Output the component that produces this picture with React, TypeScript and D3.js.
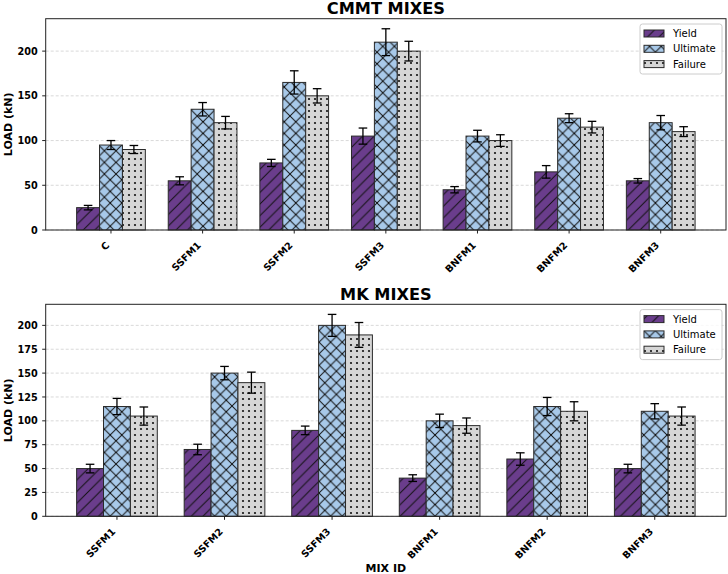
import React from "react";
import * as d3 from "d3";

const cmmtCategories = ["C", "SSFM1", "SSFM2", "SSFM3", "BNFM1", "BNFM2", "BNFM3"];
const cmmtYield = [25, 55, 75, 105, 45, 65, 55];
const cmmtUltimate = [95, 135, 165, 210, 105, 125, 120];
const cmmtFailure = [90, 120, 150, 200, 100, 115, 110];
const cmmtYieldErr = [2.5, 4.5, 4, 9, 3.5, 7, 2.5];
const cmmtUltimateErr = [5, 7.5, 13, 15, 6.5, 5, 8];
const cmmtFailureErr = [4.5, 7, 8, 11, 6.5, 6.5, 5.5];
const cmmtTicks = [0, 50, 100, 150, 200];

const mkCategories = ["SSFM1", "SSFM2", "SSFM3", "BNFM1", "BNFM2", "BNFM3"];
const mkYield = [50, 70, 90, 40, 60, 50];
const mkUltimate = [115, 150, 200, 100, 115, 110];
const mkFailure = [105, 140, 190, 95, 110, 105];
const mkYieldErr = [4.5, 5.5, 4.5, 3.5, 6.5, 4.5];
const mkUltimateErr = [8.5, 7, 11.5, 7, 9.5, 8];
const mkFailureErr = [9.5, 11, 13, 8, 10, 9.5];
const mkTicks = [0, 25, 50, 75, 100, 125, 150, 175, 200];

const seriesNames = ["Yield", "Ultimate", "Failure"];
const seriesColors = ["#6a3d8c", "#a8c9e9", "#d6d6d6"];
const seriesPatterns = ["hatchDiag", "hatchCross", "hatchDots"];

const FONT = "DejaVu Sans, Verdana, sans-serif";
const S = 5.8;
const HATCH = "#111";
const EDGE = "#2a2a2a";

function Patterns() {
  const T = 2 * S;
  const D = 6;
  return (
    <defs>
      <pattern id="hatchDiag" patternUnits="userSpaceOnUse" width={T} height={T}>
        <rect width={T} height={T} fill={seriesColors[0]} />
        <path
          d={`M0,${T} L${T},0 M${-T / 2},${T / 2} L${T / 2},${-T / 2} M${T / 2},${T * 1.5} L${T * 1.5},${T / 2}`}
          stroke={HATCH}
          strokeWidth={1}
        />
      </pattern>
      <pattern id="hatchCross" patternUnits="userSpaceOnUse" width={T} height={T}>
        <rect width={T} height={T} fill={seriesColors[1]} />
        <path
          d={`M0,${T} L${T},0 M${-T / 2},${T / 2} L${T / 2},${-T / 2} M${T / 2},${T * 1.5} L${T * 1.5},${T / 2} M0,0 L${T},${T} M${-T / 2},${T / 2} L${T / 2},${T * 1.5} M${T / 2},${-T / 2} L${T * 1.5},${T / 2}`}
          stroke={HATCH}
          strokeWidth={1}
        />
      </pattern>
      <pattern id="hatchDots" patternUnits="userSpaceOnUse" width={D} height={D}>
        <rect width={D} height={D} fill={seriesColors[2]} />
        <circle cx={D / 2} cy={D / 2} r={1.1} fill={HATCH} />
      </pattern>
    </defs>
  );
}

type PanelProps = {
  title: string;
  categories: string[];
  values: number[][];
  errors: number[][];
  ticks: number[];
  top: number;
  bottom: number;
  showXLabel?: boolean;
};

function Panel({ title, categories, values, errors, ticks, top, bottom, showXLabel }: PanelProps) {
  const left = 45.7;
  const right = 726;
  const n = categories.length;
  const w = 0.25;
  const span = n - 1 + 3 * w;
  const margin = span * 0.05;
  const x = d3
    .scaleLinear()
    .domain([-1.5 * w - margin, n - 1 + 1.5 * w + margin])
    .range([left, right]);
  const maxTop = d3.max(values.flatMap((vs, k) => vs.map((v, i) => v + errors[k][i]))) as number;
  const y = d3.scaleLinear().domain([0, maxTop * 1.05]).range([bottom, top]);
  const bw = x(w) - x(0);
  const cx = (left + right) / 2;
  const cy = (top + bottom) / 2;

  const legX0 = 640;
  const legX1 = 722;
  const legY0 = top + 5.3;
  const rowY = (k: number) => legY0 + 9.5 + k * 15.3;

  return (
    <g>
      <text x={cx} y={top - 4.8} textAnchor="middle" fontFamily={FONT} fontWeight="bold" fontSize={16.2} fill="#000">
        {title}
      </text>
      {ticks.map((t) => (
        <line
          key={"g" + t}
          x1={left}
          x2={right}
          y1={y(t)}
          y2={y(t)}
          stroke="#cfcfcf"
          strokeWidth={0.8}
          strokeDasharray="3,2"
        />
      ))}
      {values.map((vs, k) =>
        vs.map((v, i) => {
          const x0 = x(i + (k - 1) * w - w / 2);
          return (
            <rect
              key={`b${k}-${i}`}
              x={x0}
              y={y(v)}
              width={bw}
              height={y(0) - y(v)}
              fill={`url(#${seriesPatterns[k]})`}
              stroke={EDGE}
              strokeWidth={1}
            />
          );
        })
      )}
      {values.map((vs, k) =>
        vs.map((v, i) => {
          const xc = x(i + (k - 1) * w);
          const e = errors[k][i];
          const cap = 4.3;
          return (
            <g key={`e${k}-${i}`} stroke="#000" strokeWidth={1.3}>
              <line x1={xc} x2={xc} y1={y(v + e)} y2={y(v - e)} />
              <line x1={xc - cap} x2={xc + cap} y1={y(v + e)} y2={y(v + e)} />
              <line x1={xc - cap} x2={xc + cap} y1={y(v - e)} y2={y(v - e)} />
            </g>
          );
        })
      )}
      <rect x={left} y={top} width={right - left} height={bottom - top} fill="none" stroke="#222" strokeWidth={1} />
      {ticks.map((t) => (
        <g key={"t" + t}>
          <line x1={left - 3.5} x2={left} y1={y(t)} y2={y(t)} stroke="#222" strokeWidth={1} />
          <text
            x={left - 8}
            y={y(t) + 3.6}
            textAnchor="end"
            fontFamily={FONT}
            fontWeight="bold"
            fontSize={9.7}
            fill="#000"
          >
            {t}
          </text>
        </g>
      ))}
      {categories.map((c, i) => (
        <g key={"x" + c}>
          <line x1={x(i)} x2={x(i)} y1={bottom} y2={bottom + 3.5} stroke="#222" strokeWidth={1} />
          <text
            transform={`translate(${x(i) - 1},${bottom + 16}) rotate(-45)`}
            textAnchor="end"
            fontFamily={FONT}
            fontWeight="bold"
            fontSize={9.7}
            fill="#000"
          >
            {c}
          </text>
        </g>
      ))}
      <text
        transform={`translate(12,${cy}) rotate(-90)`}
        textAnchor="middle"
        fontFamily={FONT}
        fontWeight="bold"
        fontSize={11}
        fill="#000"
      >
        LOAD (kN)
      </text>
      {showXLabel && (
        <text x={cx} y={572} textAnchor="middle" fontFamily={FONT} fontWeight="bold" fontSize={11} fill="#000">
          MIX ID
        </text>
      )}
      <rect
        x={legX0}
        y={legY0}
        width={legX1 - legX0}
        height={50}
        rx={2.5}
        fill="#fff"
        fillOpacity={0.8}
        stroke="#cccccc"
        strokeWidth={1}
      />
      {seriesNames.map((s, k) => (
        <g key={"l" + s}>
          <rect
            x={644}
            y={rowY(k) - 3.5}
            width={20}
            height={7}
            fill={`url(#${seriesPatterns[k]})`}
            stroke={EDGE}
            strokeWidth={1}
          />
          <text x={673} y={rowY(k) + 3.6} fontFamily={FONT} fontSize={10} fill="#000">
            {s}
          </text>
        </g>
      ))}
    </g>
  );
}

export default function App() {
  return (
    <svg
      width={728}
      height={574}
      style={{ position: "absolute", left: 0, top: 0, background: "#fff" }}
      xmlns="http://www.w3.org/2000/svg"
    >
      <Patterns />
      <rect width={728} height={574} fill="#fff" />
      <Panel
        title="CMMT MIXES"
        categories={cmmtCategories}
        values={[cmmtYield, cmmtUltimate, cmmtFailure]}
        errors={[cmmtYieldErr, cmmtUltimateErr, cmmtFailureErr]}
        ticks={cmmtTicks}
        top={18.7}
        bottom={230}
      />
      <Panel
        title="MK MIXES"
        categories={mkCategories}
        values={[mkYield, mkUltimate, mkFailure]}
        errors={[mkYieldErr, mkUltimateErr, mkFailureErr]}
        ticks={mkTicks}
        top={304.3}
        bottom={516.3}
        showXLabel
      />
    </svg>
  );
}
